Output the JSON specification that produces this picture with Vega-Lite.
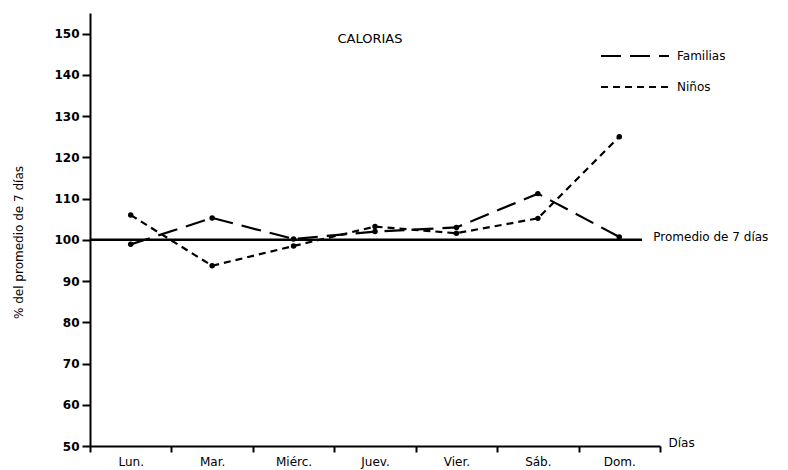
{
  "$schema": "https://vega.github.io/schema/vega-lite/v6.json",
  "width": 570,
  "height": 433,
  "autosize": "none",
  "padding": {"left": 90, "top": 13, "right": 128, "bottom": 24},
  "background": "white",
  "config": {
    "font": "DejaVu Sans",
    "view": {"stroke": null},
    "axis": {"domainColor": "black", "domainWidth": 2, "tickColor": "black", "tickWidth": 2, "labelColor": "black", "titleColor": "black", "grid": false}
  },
  "title": {"text": "CALORIAS", "anchor": "middle", "offset": -33, "fontSize": 13, "fontWeight": "normal", "color": "black", "dx": -5},
  "datasets": {
    "series": [
      {"dia": "Lun.", "grupo": "Familias", "valor": 98.9},
      {"dia": "Mar.", "grupo": "Familias", "valor": 105.3},
      {"dia": "Miérc.", "grupo": "Familias", "valor": 100.2},
      {"dia": "Juev.", "grupo": "Familias", "valor": 102.0},
      {"dia": "Vier.", "grupo": "Familias", "valor": 103.0},
      {"dia": "Sáb.", "grupo": "Familias", "valor": 111.2},
      {"dia": "Dom.", "grupo": "Familias", "valor": 100.7},
      {"dia": "Lun.", "grupo": "Niños", "valor": 106.0},
      {"dia": "Mar.", "grupo": "Niños", "valor": 93.7},
      {"dia": "Miérc.", "grupo": "Niños", "valor": 98.5},
      {"dia": "Juev.", "grupo": "Niños", "valor": 103.2},
      {"dia": "Vier.", "grupo": "Niños", "valor": 101.6},
      {"dia": "Sáb.", "grupo": "Niños", "valor": 105.2},
      {"dia": "Dom.", "grupo": "Niños", "valor": 125.0}
    ],
    "promedio": [{"dia": "Dom.", "valor": 100, "etiqueta": "Promedio de 7 días"}]
  },
  "layer": [
    {
      "data": {"name": "series"},
      "mark": {"type": "line", "color": "black", "strokeWidth": 2.2},
      "encoding": {
        "x": {
          "field": "dia", "type": "ordinal",
          "sort": ["Lun.", "Mar.", "Miérc.", "Juev.", "Vier.", "Sáb.", "Dom."],
          "scale": {"type": "band", "paddingInner": 0, "paddingOuter": 0},
          "axis": {"title": "Días", "labelAngle": 0, "bandPosition": 0.5, "tickBand": "extent", "tickSize": 6, "labelPadding": 4, "labelFontSize": 12, "titleFontSize": 12, "titleFontWeight": "normal", "titleAnchor": "start", "titleAlign": "left", "titleBaseline": "middle", "titleX": 578, "titleY": -4}
        },
        "y": {
          "field": "valor", "type": "quantitative",
          "scale": {"domain": [50, 155], "nice": false, "zero": false},
          "axis": {"values": [50, 60, 70, 80, 90, 100, 110, 120, 130, 140, 150], "title": "% del promedio de 7 días", "tickSize": 8, "labelPadding": 3, "labelFontSize": 12, "labelFontWeight": "bold", "titleFontSize": 12, "titleFontWeight": "normal", "titleX": -65, "titleY": 229}
        },
        "strokeDash": {
          "field": "grupo", "type": "nominal",
          "scale": {"domain": ["Familias", "Niños"], "range": [[20, 9], [7, 5]]},
          "legend": {"title": null, "orient": "none", "legendX": 527, "legendY": 25, "symbolType": "M-2,0H2", "symbolSize": 1156, "symbolStrokeWidth": 2, "symbolStrokeColor": "black", "labelFontSize": 12, "labelColor": "black", "rowPadding": 7, "labelOffset": 24}
        }
      }
    },
    {
      "data": {"name": "promedio"},
      "mark": {"type": "rule", "color": "black", "strokeWidth": 2.5},
      "encoding": {
        "x": {"datum": "Lun.", "type": "ordinal", "bandPosition": 0},
        "x2": {"datum": "Dom.", "bandPosition": 0.78},
        "y": {"field": "valor", "type": "quantitative"}
      }
    },
    {
      "data": {"name": "series"},
      "mark": {"type": "point", "filled": true, "color": "black", "size": 30, "opacity": 1},
      "encoding": {
        "x": {"field": "dia", "type": "ordinal", "sort": ["Lun.", "Mar.", "Miérc.", "Juev.", "Vier.", "Sáb.", "Dom."]},
        "y": {"field": "valor", "type": "quantitative"}
      }
    },
    {
      "data": {"name": "promedio"},
      "mark": {"type": "text", "align": "left", "baseline": "middle", "dx": 34, "dy": -3, "fontSize": 12, "color": "black"},
      "encoding": {
        "x": {"field": "dia", "type": "ordinal", "sort": ["Lun.", "Mar.", "Miérc.", "Juev.", "Vier.", "Sáb.", "Dom."]},
        "y": {"field": "valor", "type": "quantitative"},
        "text": {"field": "etiqueta"}
      }
    }
  ]
}
